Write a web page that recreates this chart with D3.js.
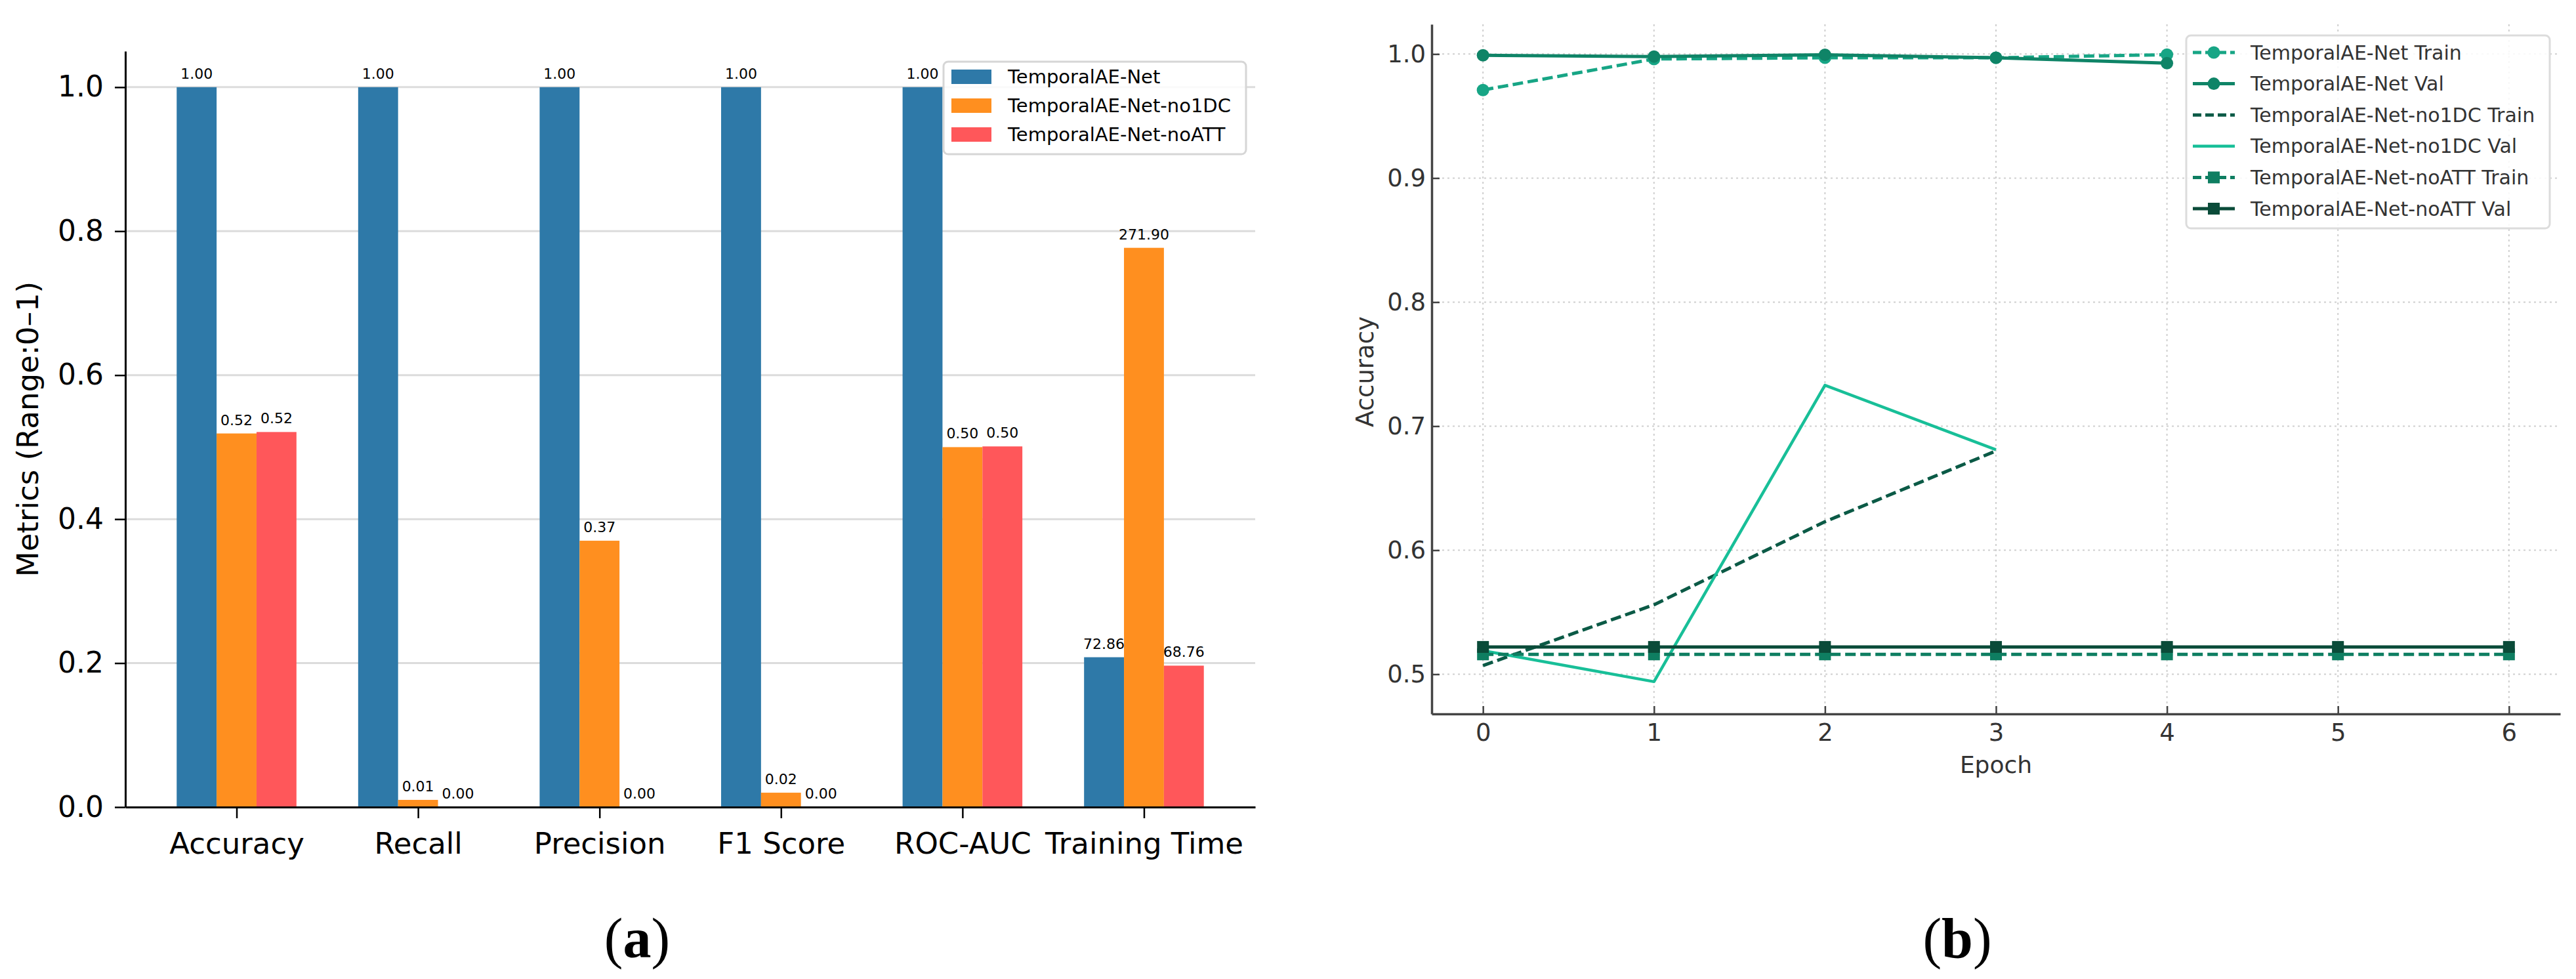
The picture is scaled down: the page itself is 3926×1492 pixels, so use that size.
<!DOCTYPE html>
<html>
<head>
<meta charset="utf-8">
<script src="https://cdn.jsdelivr.net/npm/d3@7"></script>
<style>
  html, body { margin: 0; padding: 0; background: #fff; }
  svg { display: block; }
</style>
</head>
<body>
<svg id="chart" width="3926" height="1492"></svg>
<script>
// ---------------- DATA (panel a) ----------------
const metrics = ["Accuracy", "Recall", "Precision", "F1 Score", "ROC-AUC", "Training Time"];
const modelsA = ["TemporalAE-Net", "TemporalAE-Net-no1DC", "TemporalAE-Net-noATT"];
const scoresNet   = [1.00, 1.00, 1.00, 1.00, 1.00, 72.86];
const scoresNo1DC = [0.519, 0.01, 0.37, 0.02, 0.50, 271.90];
const scoresNoATT = [0.521, 0.00, 0.00, 0.00, 0.501, 68.76];
const trainingTimeScale = 350;   // training time (s) normalised to 0-1 range
const yTicksA = [0.0, 0.2, 0.4, 0.6, 0.8, 1.0];

// ---------------- DATA (panel b) ----------------
const epochs = [0, 1, 2, 3, 4, 5, 6];
const netTrain   = [0.971, 0.996, 0.997, 0.997, 0.9995];
const netVal     = [0.999, 0.998, 0.9994, 0.997, 0.9926];
const no1dcTrain = [0.507, 0.556, 0.623, 0.680];
const no1dcVal   = [0.519, 0.494, 0.733, 0.681];
const noattTrain = [0.516, 0.516, 0.516, 0.516, 0.516, 0.516, 0.516];
const noattVal   = [0.522, 0.522, 0.522, 0.522, 0.522, 0.522, 0.522];
const seriesNames = ["TemporalAE-Net Train", "TemporalAE-Net Val", "TemporalAE-Net-no1DC Train",
                     "TemporalAE-Net-no1DC Val", "TemporalAE-Net-noATT Train", "TemporalAE-Net-noATT Val"];
const yTicksB = [0.5, 0.6, 0.7, 0.8, 0.9, 1.0];

const svg = d3.select("#chart");
const FONT = "DejaVu Sans, Verdana, sans-serif";

// ================= PANEL (a) =================
(function () {
  const L = 191, R = 1913, T = 78, B = 1230;
  const x = d3.scaleLinear().domain([-0.613, 5.613]).range([L, R]);
  const y = d3.scaleLinear().domain([0, 1.05]).range([B, T]);
  const colors = ["#2E79A8", "#FF8F1F", "#FF575A"];
  const bw = 0.22;
  const g = svg.append("g");

  // grid
  g.append("g").selectAll("line").data(yTicksA).join("line")
    .attr("x1", L).attr("x2", R)
    .attr("y1", d => y(d)).attr("y2", d => y(d))
    .attr("stroke", "#dcdcdc").attr("stroke-width", 3);

  const series = [scoresNet, scoresNo1DC, scoresNoATT];
  const norm = (v, i) => metrics[i] === "Training Time" ? v / trainingTimeScale : v;

  series.forEach((vals, s) => {
    const off = (s - 1) * bw;
    const gs = g.append("g");
    gs.selectAll("rect").data(vals).join("rect")
      .attr("x", (d, i) => x(i + off - bw / 2))
      .attr("width", x(bw) - x(0))
      .attr("y", (d, i) => y(norm(d, i)))
      .attr("height", (d, i) => y(0) - y(norm(d, i)))
      .attr("fill", colors[s]);
    gs.selectAll("text").data(vals).join("text")
      .attr("x", (d, i) => x(i + off))
      .attr("y", (d, i) => y(norm(d, i)) - 13)
      .attr("text-anchor", "middle")
      .attr("font-family", FONT).attr("font-size", 22).attr("fill", "#000")
      .text(d => d.toFixed(2));
  });

  // axes
  const ax = g.append("g").attr("transform", `translate(0,${B})`)
    .call(d3.axisBottom(x).tickValues(d3.range(metrics.length)).tickFormat(i => metrics[i])
      .tickSizeInner(17).tickSizeOuter(0).tickPadding(22));
  ax.select(".domain").attr("stroke", "#000").attr("stroke-width", 3);
  ax.selectAll(".tick line").attr("stroke", "#000").attr("stroke-width", 2.5);
  ax.selectAll(".tick text").attr("font-family", FONT).attr("font-size", 45).attr("fill", "#000");

  const ay = g.append("g").attr("transform", `translate(${L},0)`)
    .call(d3.axisLeft(y).tickValues(yTicksA).tickFormat(d3.format(".1f"))
      .tickSizeInner(16).tickSizeOuter(0).tickPadding(17));
  ay.select(".domain").attr("stroke", "#000").attr("stroke-width", 3);
  ay.selectAll(".tick line").attr("stroke", "#000").attr("stroke-width", 2.5);
  ay.selectAll(".tick text").attr("font-family", FONT).attr("font-size", 44).attr("fill", "#000");

  g.append("text")
    .attr("transform", `translate(58,${(T + B) / 2}) rotate(-90)`)
    .attr("text-anchor", "middle")
    .attr("font-family", FONT).attr("font-size", 45).attr("fill", "#000")
    .text("Metrics (Range:0\u20131)");

  // legend
  const lg = g.append("g");
  lg.append("rect").attr("x", 1438).attr("y", 94).attr("width", 461).attr("height", 141)
    .attr("rx", 7).attr("fill", "#fff").attr("fill-opacity", 0.85)
    .attr("stroke", "#d6d6d6").attr("stroke-width", 3);
  modelsA.forEach((m, i) => {
    const cy = 117 + i * 44;
    lg.append("rect").attr("x", 1450).attr("y", cy - 11).attr("width", 61).attr("height", 22)
      .attr("fill", colors[i]);
    lg.append("text").attr("x", 1536).attr("y", cy).attr("dominant-baseline", "central")
      .attr("font-family", FONT).attr("font-size", 29).attr("fill", "#000").text(m);
  });
})();

// ================= PANEL (b) =================
(function () {
  const L = 2182, R = 3902, T = 37, B = 1088;
  const x = d3.scaleLinear().domain([-0.3, 6.3]).range([L, R]);
  const y = d3.scaleLinear().domain([0.468, 1.024]).range([B, T]);
  const g = svg.append("g");
  const TXT = "#333";

  // dotted grid
  g.append("g").selectAll("line").data(yTicksB).join("line")
    .attr("x1", L).attr("x2", R).attr("y1", d => y(d)).attr("y2", d => y(d))
    .attr("stroke", "#cfcfcf").attr("stroke-width", 2).attr("stroke-dasharray", "3,5");
  g.append("g").selectAll("line").data(epochs).join("line")
    .attr("x1", d => x(d)).attr("x2", d => x(d)).attr("y1", T).attr("y2", B)
    .attr("stroke", "#cfcfcf").attr("stroke-width", 2).attr("stroke-dasharray", "3,5");

  const styles = [
    { data: netTrain,   color: "#17A585", dash: "16,7", marker: "circle", w: 5 },
    { data: netVal,     color: "#0F8467", dash: null,   marker: "circle", w: 5 },
    { data: no1dcTrain, color: "#0B5A46", dash: "16,7", marker: null,     w: 5 },
    { data: no1dcVal,   color: "#18BF98", dash: null,   marker: null,     w: 4.5 },
    { data: noattTrain, color: "#0E7E61", dash: "16,7", marker: "square", w: 5 },
    { data: noattVal,   color: "#0A4B39", dash: null,   marker: "square", w: 5 }
  ];
  const line = d3.line().x((d, i) => x(epochs[i])).y(d => y(d));

  styles.forEach(s => {
    const gs = g.append("g");
    gs.append("path").attr("d", line(s.data)).attr("fill", "none")
      .attr("stroke", s.color).attr("stroke-width", s.w)
      .attr("stroke-dasharray", s.dash).attr("stroke-linejoin", "round");
    if (s.marker === "circle") {
      gs.selectAll("circle").data(s.data).join("circle")
        .attr("cx", (d, i) => x(epochs[i])).attr("cy", d => y(d)).attr("r", 9.5)
        .attr("fill", s.color);
    } else if (s.marker === "square") {
      gs.selectAll("rect").data(s.data).join("rect")
        .attr("x", (d, i) => x(epochs[i]) - 9).attr("y", d => y(d) - 9)
        .attr("width", 18).attr("height", 18).attr("fill", s.color);
    }
  });

  const ax = g.append("g").attr("transform", `translate(0,${B})`)
    .call(d3.axisBottom(x).tickValues(epochs).tickFormat(d3.format("d"))
      .tickSizeInner(-12).tickSizeOuter(0).tickPadding(15));
  ax.select(".domain").attr("stroke", "#444").attr("stroke-width", 3.5);
  ax.selectAll(".tick line").attr("stroke", "#444").attr("stroke-width", 2.5);
  ax.selectAll(".tick text").attr("font-family", FONT).attr("font-size", 37).attr("fill", TXT);

  const ay = g.append("g").attr("transform", `translate(${L},0)`)
    .call(d3.axisLeft(y).tickValues(yTicksB).tickFormat(d3.format(".1f"))
      .tickSizeInner(-12).tickSizeOuter(0).tickPadding(9));
  ay.select(".domain").attr("stroke", "#444").attr("stroke-width", 3.5);
  ay.selectAll(".tick line").attr("stroke", "#444").attr("stroke-width", 2.5);
  ay.selectAll(".tick text").attr("font-family", FONT).attr("font-size", 37).attr("fill", TXT);

  g.append("text").attr("x", (L + R) / 2).attr("y", 1178).attr("text-anchor", "middle")
    .attr("font-family", FONT).attr("font-size", 36).attr("fill", TXT).text("Epoch");
  g.append("text").attr("transform", `translate(2093,${(T + B) / 2 + 4}) rotate(-90)`)
    .attr("text-anchor", "middle")
    .attr("font-family", FONT).attr("font-size", 37).attr("fill", TXT).text("Accuracy");

  // legend
  const lg = g.append("g");
  lg.append("rect").attr("x", 3332).attr("y", 54).attr("width", 554).attr("height", 294)
    .attr("rx", 7).attr("fill", "#fff").attr("fill-opacity", 0.85)
    .attr("stroke", "#dcdcdc").attr("stroke-width", 3);
  styles.forEach((s, i) => {
    const cy = 80 + i * 47.6;
    lg.append("line").attr("x1", 3342).attr("x2", 3406).attr("y1", cy).attr("y2", cy)
      .attr("stroke", s.color).attr("stroke-width", s.w).attr("stroke-dasharray", s.dash ? "13,6" : null);
    if (s.marker === "circle") {
      lg.append("circle").attr("cx", 3374).attr("cy", cy).attr("r", 9.5).attr("fill", s.color);
    } else if (s.marker === "square") {
      lg.append("rect").attr("x", 3374 - 9).attr("y", cy - 9).attr("width", 18).attr("height", 18)
        .attr("fill", s.color);
    }
    lg.append("text").attr("x", 3430).attr("y", cy).attr("dominant-baseline", "central")
      .attr("font-family", FONT).attr("font-size", 30).attr("fill", TXT).text(seriesNames[i]);
  });
})();

// ================= CAPTIONS =================
[["a", 971], ["b", 2983]].forEach(([lab, cx]) => {
  const t = svg.append("text").attr("x", cx).attr("y", 1459).attr("text-anchor", "middle")
    .attr("font-family", "Liberation Serif, Times New Roman, serif").attr("font-size", 86).attr("fill", "#000");
  t.append("tspan").text("(");
  t.append("tspan").attr("font-weight", "bold").text(lab);
  t.append("tspan").text(")");
});
</script>
</body>
</html>
